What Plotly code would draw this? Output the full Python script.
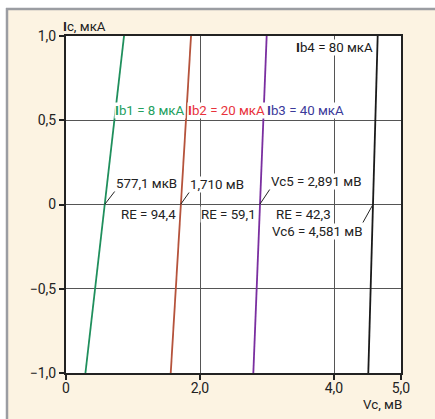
import plotly.graph_objects as go

# ---- data ----
ic_points = [-1.0, 0.0, 1.0]                       # Ic, мкА
vc_bottom = [0.290, 1.563, 2.796, 4.512]           # Vc at Ic=-1
vc_zero = [0.5771, 1.710, 2.891, 4.581]            # Vc at Ic=0
vc_top = [0.866, 1.866, 2.995, 4.652]              # Vc at Ic=1
series_names = ["Ib1 = 8 мкА", "Ib2 = 20 мкА", "Ib3 = 40 мкА", "Ib4 = 80 мкА"]
line_colors = ["#1f8f5c", "#b5533c", "#7a2fa0", "#1a1a1a"]
label_colors = ["#23a060", "#e8323c", "#3b3a9a", "#1a1a1a"]
re_values = ["RE = 94,4", "RE = 59,1", "RE = 42,3"]
x_tickvals = [0, 2, 4, 5]
x_ticktext = ["0", "2,0", "4,0", "5,0"]
y_tickvals = [1.0, 0.5, 0.0, -0.5, -1.0]
y_ticktext = ["1,0", "0,5", "0", "−0,5", "−1,0"]

FONT = "Liberation Sans Narrow, Roboto, Arial Narrow, sans-serif"
FS = 13.3
W, H = 435, 419
ML, MR, MT, MB = 66, 34, 36, 46
PW, PH = W - ML - MR, H - MT - MB

def px(x):
    return (x - ML) / PW

def py(y):
    return (H - MB - y) / PH

fig = go.Figure()
for i in range(4):
    fig.add_trace(go.Scatter(
        x=[vc_bottom[i], vc_zero[i], vc_top[i]], y=ic_points,
        mode="lines", line=dict(color=line_colors[i], width=1.8),
        showlegend=False, hoverinfo="skip"))

ann = []
def lab(text, x, y, color, **kw):
    d = dict(text=text, x=x, y=y, xref="x", yref="y", showarrow=False,
             xanchor="center", yanchor="middle",
             font=dict(family=FONT, size=FS, color=color),
             bgcolor="white", borderpad=0)
    d.update(kw)
    ann.append(d)

def bold_i(name):
    return "<b>I</b>" + name[1:]

# series labels
lab(bold_i(series_names[0]), 1.255, 0.555, label_colors[0])
lab(bold_i(series_names[1]), 2.390, 0.555, label_colors[1])
lab(bold_i(series_names[2]), 3.580, 0.555, label_colors[2])
lab(bold_i(series_names[3]), 4.0, 0.929, label_colors[3])

# crossing labels with leaders
def lead(text, xv, ax, ay, xanchor, yanchor):
    ann.append(dict(text=text, x=xv, y=0, xref="x", yref="y", showarrow=True,
                    arrowhead=0, arrowwidth=1, arrowcolor="#222", ax=ax, ay=ay,
                    xanchor=xanchor, yanchor=yanchor, standoff=0,
                    font=dict(family=FONT, size=FS, color="#222"),
                    bgcolor="white", borderpad=0))

lead("577,1 мкВ", vc_zero[0], 10, -13, "left", "bottom")
lead("1,710 мВ", vc_zero[1], 8.5, -12, "left", "bottom")
lead("Vc5 = 2,891 мВ", vc_zero[2], 10, -15, "left", "bottom")
lead("Vc6 = 4,581 мВ", vc_zero[3], -10, 18, "right", "top")

lab(re_values[0], 1.231, -0.062, "#222")
lab(re_values[1], 2.418, -0.062, "#222")
lab(re_values[2], 3.545, -0.062, "#222")

# axis titles
ann.append(dict(text="<b>I</b>c, мкА", x=px(84), y=py(26), xref="paper", yref="paper",
                xanchor="center", yanchor="middle",
                showarrow=False, font=dict(family=FONT, size=FS, color="#222")))
ann.append(dict(text="Vc, мВ", x=px(382.5), y=py(404), xref="paper", yref="paper",
                xanchor="center", yanchor="middle",
                showarrow=False, font=dict(family=FONT, size=FS, color="#222")))

shapes = [
    dict(type="rect", xref="paper", yref="paper", x0=-0.3, x1=1.3, y0=py(8), y1=1.3,
         fillcolor="white", line=dict(width=0), layer="above"),
    dict(type="rect", xref="paper", yref="paper", x0=-0.3, x1=px(6), y0=-0.3, y1=1.3,
         fillcolor="white", line=dict(width=0), layer="above"),
    dict(type="line", xref="paper", yref="paper", x0=px(6), x1=1.3, y0=py(9), y1=py(9),
         line=dict(color="#9b9da2", width=2.5), layer="above"),
    dict(type="line", xref="paper", yref="paper", x0=px(7), x1=px(7), y0=-0.3, y1=py(8),
         line=dict(color="#9b9da2", width=2.5), layer="above"),
]

fig.update_layout(
    width=W, height=H, autosize=False,
    margin=dict(l=ML, r=MR, t=MT, b=MB, pad=0),
    paper_bgcolor="#fcf3e2", plot_bgcolor="white",
    font=dict(family=FONT, size=14, color="#222"),
    annotations=ann, shapes=shapes,
    xaxis=dict(range=[0, 5], tickvals=x_tickvals, ticktext=x_ticktext,
               showgrid=True, gridcolor="#555", gridwidth=1.2,
               showline=True, linecolor="#222", linewidth=2, mirror=True,
               ticks="outside", ticklen=5, tickcolor="#222", tickwidth=1.5,
               ticklabelstandoff=-4,
               zeroline=False, fixedrange=True,
               tickfont=dict(family=FONT, size=14, color="#222")),
    yaxis=dict(range=[-1, 1], tickvals=y_tickvals, ticktext=y_ticktext,
               showgrid=True, gridcolor="#555", gridwidth=1.2,
               showline=True, linecolor="#222", linewidth=2, mirror=True,
               ticks="outside", ticklen=5, tickcolor="#222", tickwidth=1.5,
               zeroline=False, fixedrange=True,
               tickfont=dict(family=FONT, size=14, color="#222")),
)

fig.write_html("out.html", config={"displayModeBar": False},
               post_script="document.body.style.margin='0';document.body.style.overflow='hidden';")
